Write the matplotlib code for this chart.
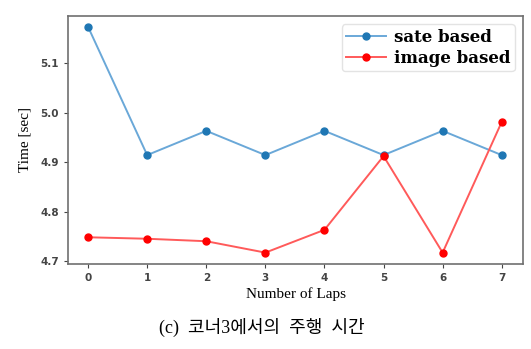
import matplotlib
matplotlib.use("Agg")
import matplotlib.pyplot as plt

laps = [0, 1, 2, 3, 4, 5, 6, 7]
sate_based = [5.173, 4.914, 4.963, 4.914, 4.963, 4.914, 4.963, 4.914]
image_based = [4.748, 4.745, 4.740, 4.717, 4.763, 4.912, 4.717, 4.981]
yticks = [4.7, 4.8, 4.9, 5.0, 5.1]

fig = plt.figure(figsize=(5.31, 3.49), dpi=100)
ax = fig.add_axes([68 / 531, 1 - 264 / 349, 455 / 531, 248 / 349])

ax.plot(laps, sate_based, color="#6aa8d8", lw=1.4, marker="o", ms=5,
        mfc="#1f77b4", mec="#1f77b4", label="sate based")
ax.plot(laps, image_based, color="#ff5a5a", lw=1.4, marker="o", ms=5,
        mfc="#ff0000", mec="#ff0000", label="image based")

ax.set_xlim(-0.34, 7.36)
ax.set_ylim(4.694, 5.195)
ax.set_xticks(laps)
ax.set_yticks(yticks)
ax.tick_params(labelsize=7.5, colors="#444444", length=3)
for lab in ax.get_xticklabels() + ax.get_yticklabels():
    lab.set_fontweight("bold")
for s in ax.spines.values():
    s.set_color("#707070")
    s.set_linewidth(1.2)

ax.set_xlabel("Number of Laps", family="Liberation Serif", fontsize=11, labelpad=3)
ax.set_ylabel("Time [sec]", family="Liberation Serif", fontsize=11, labelpad=6)

leg = ax.legend(loc="upper right", prop={"family": "DejaVu Serif", "weight": "bold", "size": 12},
                handlelength=2.4, borderpad=0.25, labelspacing=0.25, handletextpad=0.5,
                borderaxespad=0.5, fancybox=True)
leg.get_frame().set_edgecolor("#dddddd")

fig.text(262 / 531, 1 - 327 / 349, "(c)  코너3에서의  주행  시간",
         family=["Liberation Serif", "Noto Sans CJK KR"], fontsize=13,
         ha="center", va="center")

fig.savefig("out.png", dpi=100)
